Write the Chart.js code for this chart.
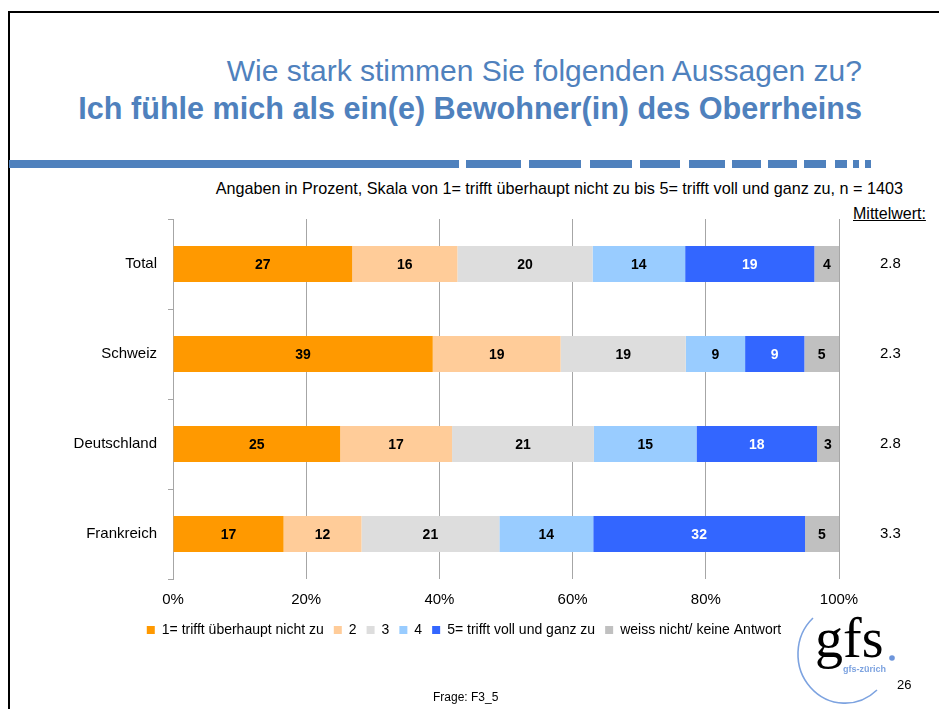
<!DOCTYPE html>
<html>
<head>
<meta charset="utf-8">
<script src="https://cdn.jsdelivr.net/npm/chart.js@4.4.0/dist/chart.umd.min.js"></script>
<style>
  body { margin: 0; width: 939px; height: 709px; position: relative; overflow: hidden; background: #fff;
         font-family: "Liberation Sans", Arial, sans-serif; }
  .frame { position: absolute; left: 8px; top: 11px; width: 960px; height: 720px;
           border-left: 2px solid #000; border-top: 2px solid #000; }
  .txt { position: absolute; white-space: nowrap; line-height: 1; }
  .t1 { right: 77px; top: 56px; font-size: 30px; color: #4f81bd; }
  .t2 { right: 77px; top: 93px; font-size: 30.6px; font-weight: bold; color: #4f81bd; }
  .sub { right: 36px; top: 180px; font-size: 16.2px; color: #000; }
  .mw { left: 853px; top: 206px; font-size: 16px; text-decoration: underline; }
  .page { left: 897px; top: 678px; font-size: 13px; }
  .frage { left: 433px; top: 691px; font-size: 12px; }
  .dash { position: absolute; top: 160px; height: 8px; background: #4f81bd; }
  #wrap { position: absolute; left: 0; top: 0; width: 928px; height: 709px; }
  #logo { position: absolute; left: 790px; top: 600px; }
</style>
</head>
<body>
<div class="frame"></div>
<div class="txt t1">Wie stark stimmen Sie folgenden Aussagen zu?</div>
<div class="txt t2">Ich fühle mich als ein(e) Bewohner(in) des Oberrheins</div>
<div id="dashes"></div>
<div class="txt sub">Angaben in Prozent, Skala von 1= trifft überhaupt nicht zu bis 5= trifft voll und ganz zu, n = 1403</div>
<div class="txt mw">Mittelwert:</div>
<div id="wrap"><canvas id="chart" width="928" height="709"></canvas></div>
<svg id="logo" width="140" height="109">
  <path d="M 23 18 A 45 47 0 1 0 87 90" fill="none" stroke="#7da3e0" stroke-width="1.6"/>
  <text x="25" y="57" font-family="Liberation Serif" font-size="56" fill="#000">gfs</text>
  <circle cx="102" cy="58" r="2.8" fill="#6d95db"/>
  <text x="53" y="72" font-family="Liberation Sans" font-size="9" font-weight="bold" fill="#7da3e0">gfs-zürich</text>
</svg>
<div class="txt page">26</div>
<div class="txt frage">Frage: F3_5</div>

<script>
// data (percent, stacked to 100)
const categories = ["Total", "Schweiz", "Deutschland", "Frankreich"];
const seriesNames = ["1= trifft überhaupt nicht zu", "2", "3", "4", "5= trifft voll und ganz zu", "weiss nicht/ keine Antwort"];
const s1 = [26.9, 39.0, 25.1, 16.6];
const s2 = [15.8, 19.2, 16.8, 11.7];
const s3 = [20.3, 18.8, 21.3, 20.7];
const s4 = [13.9, 8.9, 15.4, 14.1];
const s5 = [19.4, 8.9, 18.1, 31.8];
const sNA = [3.8, 5.2, 3.3, 5.1];
const means = ["2.8", "2.3", "2.8", "3.3"];
const xTicks = ["0%", "20%", "40%", "60%", "80%", "100%"];

const colors = ["#ff9900", "#ffcc99", "#dddddd", "#99ccff", "#3366ff", "#c0c0c0"];
const labelColors = ["#000", "#000", "#000", "#000", "#fff", "#000"];

// dashed rule under the title
const dashSegs = [[9, 459], [466, 521], [529, 581], [590, 632], [640, 680], [689, 725], [732, 761], [768, 797], [804, 826], [835, 847], [853, 859], [865, 871]];
document.getElementById("dashes").innerHTML = dashSegs
  .map((s) => `<div class="dash" style="left:${s[0]}px;width:${s[1] - s[0]}px"></div>`)
  .join("");

const barLabels = {
  id: "barLabels",
  afterDatasetsDraw(chart) {
    const ctx = chart.ctx;
    ctx.save();
    ctx.font = "bold 14px 'Liberation Sans', Arial";
    ctx.textAlign = "center";
    ctx.textBaseline = "middle";
    chart.data.datasets.forEach((ds, i) => {
      chart.getDatasetMeta(i).data.forEach((bar, j) => {
        const p = bar.getCenterPoint();
        ctx.fillStyle = labelColors[i];
        ctx.fillText(Math.round(ds.data[j]), p.x, p.y + 1);
      });
    });
    ctx.restore();
  }
};

const allSeries = [s1, s2, s3, s4, s5, sNA];
const font15 = { size: 15, family: "'Liberation Sans', Arial" };

new Chart(document.getElementById("chart"), {
  type: "bar",
  data: {
    labels: categories,
    datasets: allSeries.map((d, i) => ({
      label: seriesNames[i],
      data: d,
      backgroundColor: colors[i],
      borderWidth: 0,
      barPercentage: 0.4,
      categoryPercentage: 1
    }))
  },
  options: {
    indexAxis: "y",
    responsive: false,
    animation: false,
    devicePixelRatio: 1,
    layout: { padding: { left: 0, right: 0, top: 219, bottom: 62 } },
    scales: {
      x: {
        stacked: true,
        min: 0,
        max: 100,
        afterFit: (s) => { s.height = 34; },
        border: { display: false },
        grid: { color: "#a6a6a6", drawTicks: false },
        ticks: { stepSize: 20, padding: 12, color: "#000", font: font15, callback: (v, i) => xTicks[i] }
      },
      y: {
        stacked: true,
        afterFit: (s) => { s.width = 173; },
        border: { display: true, color: "#a6a6a6" },
        grid: { drawOnChartArea: false, drawTicks: true, tickLength: 5, color: "#a6a6a6" },
        ticks: { padding: 11, color: "#000", font: font15 }
      },
      // right-hand column: Mittelwert per row
      mean: {
        type: "category",
        labels: means,
        position: "right",
        offset: true,
        afterFit: (s) => { s.width = 89; },
        border: { display: false },
        grid: { display: false, drawTicks: false },
        ticks: { padding: 41, color: "#000", font: font15 }
      }
    },
    plugins: {
      legend: {
        position: "bottom",
        labels: { boxWidth: 8, boxHeight: 8, padding: 10, color: "#000", font: { size: 14, family: "'Liberation Sans', Arial" } }
      },
      tooltip: { enabled: false }
    }
  },
  plugins: [barLabels]
});
</script>
</body>
</html>
